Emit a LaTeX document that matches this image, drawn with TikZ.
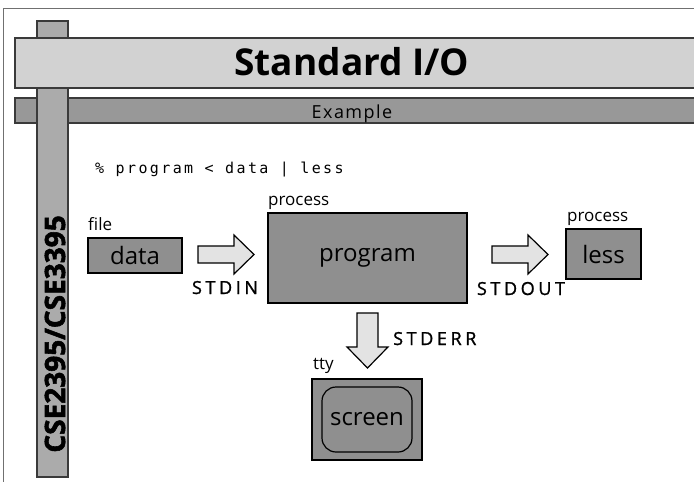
\documentclass[tikz,border=0pt]{standalone}
\usepackage{fontspec}
\setmainfont{Open Sans}
\newfontfamily\cmdfont{DejaVu Sans Mono}[LetterSpace=16]
\newfontfamily\streamfont{Open Sans}[LetterSpace=20,FakeBold=1.2]
\newfontfamily\subfont{Open Sans}[LetterSpace=8]
\newfontfamily\heavyfont{Open Sans}[FakeBold=2]
\definecolor{titlegray}{HTML}{D2D2D2}
\definecolor{subgray}{HTML}{989898}
\definecolor{postgray}{HTML}{ABABAB}
\definecolor{boxgray}{HTML}{8F8F8F}
\definecolor{arrowgray}{HTML}{E3E3E3}
\definecolor{edgegray}{HTML}{3A3A3A}
\definecolor{framegray}{HTML}{707070}
\begin{document}
\begin{tikzpicture}[x=1pt,y=-1pt,
  barline/.style={draw=edgegray, line width=1.2pt},
  procbox/.style={draw=black, line width=1.5pt, fill=boxgray, inner sep=0pt,
    font=\fontsize{24}{28}\selectfont},
  caption/.style={anchor=base west, inner sep=0pt, font=\fontsize{17}{20}\selectfont},
  streamlabel/.style={anchor=base, inner sep=0pt, font=\streamfont\fontsize{18}{20}\selectfont},
  arrowbody/.style={draw=black, line width=1.2pt, fill=arrowgray, line join=miter}]
\useasboundingbox (0,0) rectangle (694,482);

% slide frame
\draw[framegray, line width=1pt] (3,490) -- (3,8) -- (700,8);

% subtitle band, side post, title band
\fill[subgray] (15,98) rectangle (700,123);
\draw[barline] (700,98) -- (15,98) -- (15,123) -- (700,123);
\draw[barline, fill=postgray] (37,21) rectangle (68,477);
\fill[titlegray] (15,38) rectangle (700,88);
\draw[barline] (700,38) -- (15,38) -- (15,88) -- (700,88);

\node[anchor=base, inner sep=0pt, font=\bfseries\fontsize{37}{42}\selectfont]
  (title) at (352,75) {Standard I/O};
\node[anchor=base, inner sep=0pt, font=\subfont\fontsize{18}{20}\selectfont]
  (sub) at (352,118) {Example};
\node[anchor=base, rotate=90, inner sep=0pt, font=\heavyfont\bfseries\fontsize{28}{30}\selectfont]
  (course) at (65,334) {CSE2395/CSE3395};

% shell command
\node[anchor=base west, inner sep=0pt, font=\cmdfont\fontsize{15}{18}\selectfont]
  (cmd) at (95,173) {\% program < data | less};

% files and processes
\node[procbox, minimum width=94pt, minimum height=35pt] (data) at (135,255.5) {data};
\node[procbox, minimum width=199pt, minimum height=90pt] (prog) at (367.5,258) {program};
\node[procbox, minimum width=75pt, minimum height=50pt] (less) at (603.5,254) {less};
\node[procbox, minimum width=110pt, minimum height=81pt] (tty) at (367,419.5) {};
\node[procbox, line width=1.2pt, rounded corners=14pt, minimum width=90pt,
  minimum height=65pt] (screen) at (tty.center) {screen};

\node[caption] (filecap) at (88,230) {file};
\node[caption] (progcap) at (268,205) {process};
\node[caption] (lesscap) at (567,221) {process};
\node[caption] (ttycap) at (313,369) {tty};

% stream arrows
\coordinate (inA) at (198,254.5);
\coordinate (outA) at (492,254.5);
\coordinate (errA) at (367.5,313);
\begin{scope}[shift={(inA)}]
  \draw[arrowbody] (0,-8.5) -- (36,-8.5) -- (36,-19.5) -- (56,0)
    -- (36,19.5) -- (36,8.5) -- (0,8.5) -- cycle;
\end{scope}
\begin{scope}[shift={(outA)}]
  \draw[arrowbody] (0,-8.5) -- (36,-8.5) -- (36,-19.5) -- (56,0)
    -- (36,19.5) -- (36,8.5) -- (0,8.5) -- cycle;
\end{scope}
\begin{scope}[shift={(errA)}]
  \draw[arrowbody] (-10.5,0) -- (-10.5,34) -- (-20.5,34) -- (0,55)
    -- (20.5,34) -- (10.5,34) -- (10.5,0) -- cycle;
\end{scope}

\node[streamlabel] (stdin) at (225,294) {STDIN};
\node[streamlabel] (stdout) at (521,295) {STDOUT};
\node[streamlabel, anchor=base west] (stderr) at (393,345) {STDERR};
\end{tikzpicture}
\end{document}
